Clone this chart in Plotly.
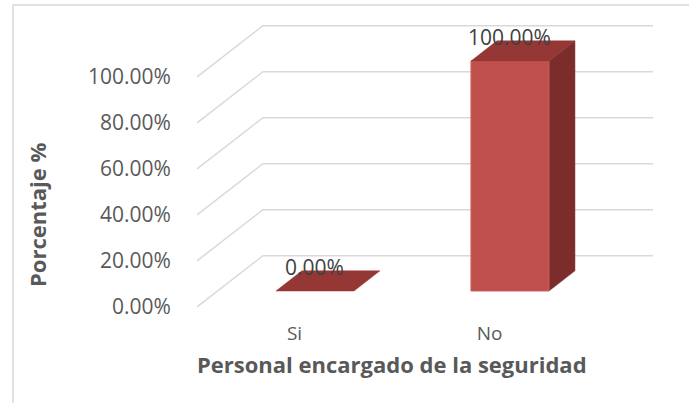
import plotly.graph_objects as go

# ---- data ----
categories = ["Si", "No"]
values = [0.0, 1.0]
y_ticks = [0.0, 0.2, 0.4, 0.6, 0.8, 1.0]
x_title = "Personal encargado de la seguridad"
y_title = "Porcentaje %"

# ---- 3D projection helpers (oblique: depth d in [0,1]) ----
DX, DY = 0.338, 0.222      # axis-unit shift for full depth
D0, D1 = 0.31, 0.704       # bar front / back depth
HW = 0.2                   # bar half-width
X_LEFT, X_RIGHT = -0.5, 1.5

def P(x, y, d):
    return x + DX * d, y + DY * d

FRONT = "#C0504D"
TOP = "#953735"
SIDE = "#7A2D2B"
GRID = "#D9D9D9"
TXT = "#595959"
FONT = "Open Sans"

fig = go.Figure()

# gridlines: back wall and left wall
for t in y_ticks:
    a = P(X_LEFT, t, 0); b = P(X_LEFT, t, 1); c = P(X_RIGHT, t, 1)
    fig.add_trace(go.Scatter(x=[a[0], b[0], c[0]], y=[a[1], b[1], c[1]],
                             mode="lines", line=dict(color=GRID, width=1.5),
                             hoverinfo="skip", showlegend=False))

# bars
for i, v in enumerate(values):
    if v > 0:
        # right side face
        pts = [P(i + HW, 0, D0), P(i + HW, 0, D1), P(i + HW, v, D1), P(i + HW, v, D0), P(i + HW, 0, D0)]
        fig.add_trace(go.Scatter(x=[p[0] for p in pts], y=[p[1] for p in pts], mode="lines",
                                 fill="toself", fillcolor=SIDE, line=dict(color=SIDE, width=0.5),
                                 hoverinfo="skip", showlegend=False))
        # front face
        pts = [P(i - HW, 0, D0), P(i + HW, 0, D0), P(i + HW, v, D0), P(i - HW, v, D0), P(i - HW, 0, D0)]
        fig.add_trace(go.Scatter(x=[p[0] for p in pts], y=[p[1] for p in pts], mode="lines",
                                 fill="toself", fillcolor=FRONT, line=dict(color="#CC5E5B", width=1),
                                 hoverinfo="skip", showlegend=False))
    # top face
    pts = [P(i - HW, v, D0), P(i + HW, v, D0), P(i + HW, v, D1), P(i - HW, v, D1), P(i - HW, v, D0)]
    fig.add_trace(go.Scatter(x=[p[0] for p in pts], y=[p[1] for p in pts], mode="lines",
                             fill="toself", fillcolor=TOP, line=dict(color=TOP, width=0.5),
                             hoverinfo="skip", showlegend=False))
    # data label
    lx, ly = P(i, v, D0)
    fig.add_annotation(x=lx, y=ly, text=f"{v:.2%}", showarrow=False, yshift=24,
                       xanchor="center", yanchor="middle",
                       font=dict(family=FONT, size=21, color="#404040"))

L, R, T, B = 190, 29, 20, 83
W, H = 689, 403
pw, ph = W - L - R, H - T - B

fig.update_layout(
    width=W, height=H,
    margin=dict(l=L, r=R, t=T, b=B),
    paper_bgcolor="white", plot_bgcolor="white",
    showlegend=False,
    xaxis=dict(range=[-0.536, 1.874], tickmode="array", tickvals=list(range(len(categories))),
               ticktext=categories, showgrid=False, zeroline=False, showline=False,
               ticks="", tickfont=dict(family=FONT, size=19, color=TXT), fixedrange=True),
    yaxis=dict(range=[-0.0574, 1.247], tickmode="array", tickvals=y_ticks,
               tickformat=".2%", showgrid=False, zeroline=False, showline=False,
               ticks="outside", ticklen=14, tickcolor="rgba(0,0,0,0)",
               tickfont=dict(family=FONT, size=21, color=TXT), fixedrange=True),
    shapes=[dict(type="rect", xref="paper", yref="paper",
                 x0=(13 - L) / pw, x1=(W + 20 - L) / pw,
                 y0=(H - B - (H + 20)) / ph, y1=(H - B - 5) / ph,
                 line=dict(color=GRID, width=1.5), fillcolor="rgba(0,0,0,0)", layer="below")],
)

fig.add_annotation(xref="paper", yref="paper", x=(392 - L) / pw, y=(H - B - 364) / ph,
                   text=f"<b>{x_title}</b>", showarrow=False,
                   xanchor="center", yanchor="middle",
                   font=dict(family=FONT, size=22, color=TXT))
fig.add_annotation(xref="paper", yref="paper", x=(37 - L) / pw, y=(H - B - 215) / ph,
                   text=f"<b>{y_title}</b>", showarrow=False, textangle=-90,
                   xanchor="center", yanchor="middle",
                   font=dict(family=FONT, size=22, color=TXT))

fig.write_html("out.html", config={"displayModeBar": False},
               post_script="document.body.style.margin='0px';")
